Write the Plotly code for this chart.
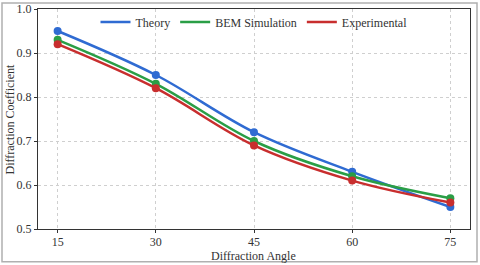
import plotly.graph_objects as go

angles = [15, 30, 45, 60, 75]
theory = [0.95, 0.85, 0.72, 0.63, 0.55]
bem = [0.93, 0.83, 0.70, 0.62, 0.57]
experimental = [0.92, 0.82, 0.69, 0.61, 0.56]
y_ticks = [0.5, 0.6, 0.7, 0.8, 0.9, 1.0]

series = [
    ("Theory", theory, "#2f6bd2"),
    ("BEM Simulation", bem, "#2a9e46"),
    ("Experimental", experimental, "#c82e2e"),
]

fig = go.Figure()
for name, vals, color in series:
    fig.add_trace(go.Scatter(
        x=angles, y=vals, name=name, mode="lines+markers", showlegend=False,
        line=dict(color=color, width=2.5, shape="spline", smoothing=1.0),
        marker=dict(color=color, size=8),
    ))
for name, vals, color in series:
    fig.add_trace(go.Scatter(
        x=[None], y=[None], name=name, mode="lines", showlegend=True,
        line=dict(color=color, width=2.5),
    ))

font = '"Liberation Serif", "Times New Roman", Times, serif'
L, R, T, B = 38, 10, 8, 36
W, H = 480, 265
pw, ph = W - L - R, H - T - B

axis_common = dict(
    showgrid=True, gridcolor="#cfcfcf", griddash="dot", gridwidth=1,
    showline=True, linecolor="#333", linewidth=1.3, mirror=True,
    ticks="outside", ticklen=3, tickcolor="#333", zeroline=False,
    automargin=False, tickfont=dict(size=12, family=font, color="#333"),
)

fig.update_layout(
    width=W, height=H,
    margin=dict(l=L, r=R, t=T, b=B),
    paper_bgcolor="white", plot_bgcolor="white",
    font=dict(family=font, size=12, color="#333"),
    showlegend=True,
    legend=dict(orientation="h", x=0.5, xanchor="center",
                y=1 - (22 - T) / ph, yanchor="middle",
                bgcolor="rgba(0,0,0,0)", font=dict(size=12, family=font, color="#333")),
    xaxis=dict(range=[12, 78], tickvals=angles, ticktext=[str(a) for a in angles],
               ticklabelstandoff=-2, **axis_common),
    yaxis=dict(range=[0.5, 1.0], tickvals=y_ticks, ticktext=[f"{v:.1f}" for v in y_ticks],
               **axis_common),
    annotations=[
        dict(text="Diffraction Angle", xref="paper", yref="paper",
             x=(253 - L) / pw, y=1 - (256 - T) / ph, xanchor="center", yanchor="middle",
             showarrow=False, font=dict(size=12, family=font, color="#333")),
        dict(text="Diffraction Coefficient", xref="paper", yref="paper",
             x=(10 - L) / pw, y=1 - (119 - T) / ph, xanchor="center", yanchor="middle",
             textangle=-90, showarrow=False, font=dict(size=12, family=font, color="#333")),
    ],
    shapes=[dict(
        type="rect", xref="paper", yref="paper",
        x0=(2 - L) / pw, x1=(477 - L) / pw,
        y0=1 - (262 - T) / ph, y1=1 - (2 - T) / ph,
        line=dict(color="#b0b0b0", width=1.5), fillcolor="rgba(0,0,0,0)", layer="below",
    )],
)

fig.write_html("out.html", config={"displayModeBar": False},
               post_script="document.body.style.margin='0';")
